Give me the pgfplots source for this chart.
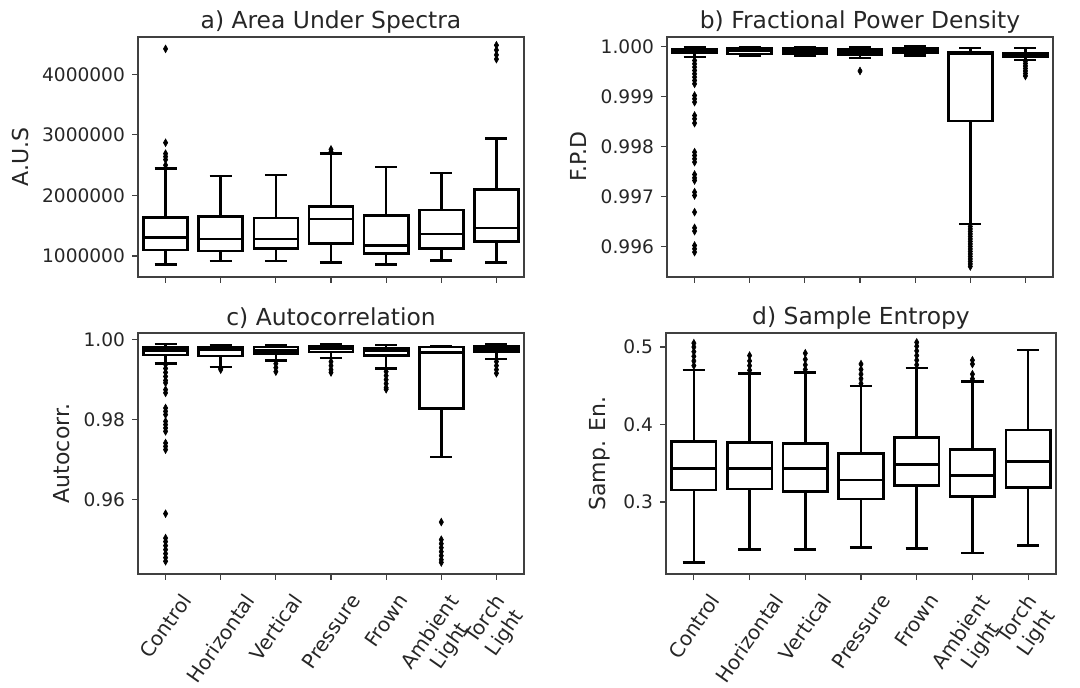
\documentclass[border=0pt]{standalone}
\usepackage{fontspec}
\setmainfont{DejaVu Sans}
\usepackage{graphicx}
\usepackage{pgfplots}
\usepgfplotslibrary{statistics}
\pgfplotsset{compat=1.18}

\definecolor{spine}{gray}{0.25}
\definecolor{txt}{gray}{0.15}

\pgfplotsset{
  panel/.style={
    scale only axis, width=193pt, height=120pt,
    xmin=-0.5, xmax=6.5, xtick={0,...,6},
    tick align=outside, major tick length=3pt,
    xtick pos=bottom, ytick pos=left,
    axis line style={spine, line width=0.6pt},
    tick style={spine, line width=0.6pt},
    tick label style={font=\fontsize{9.3}{11.2}\selectfont, text=txt},
    label style={font=\fontsize{11}{13}\selectfont, text=txt},
    title style={font=\fontsize{11.7}{14}\selectfont, text=txt, yshift=-7.5pt},
    /pgf/number format/assume math mode=true,
    scaled y ticks=false,
    yticklabel style={/pgf/number format/fixed, /pgf/number format/fixed zerofill,
      /pgf/number format/1000 sep={}},
    boxplot/draw direction=y,
    boxplot/box extend=0.8,
    boxplot/whisker extend=0.4,
    clip=false,
  },
  bx/.style={black, line width=1.3pt, solid, mark=diamond*, mark size=1.9pt,
    mark options={xscale=0.75, solid, line width=0.3pt, fill=black},
    boxplot/every box/.style={fill=white}},
  nolab/.style={xticklabels={}},
  lab/.style={xticklabel style={anchor=north, yshift=-2.5pt, font=\fontsize{10}{11.8}\selectfont},
    xticklabels={\rotatebox{55}{Control},\rotatebox{55}{Horizontal},\rotatebox{55}{Vertical},
      \rotatebox{55}{Pressure},\rotatebox{55}{Frown},
      \rotatebox{55}{\begin{tabular}{@{}c@{}}Ambient\\Light\end{tabular}},
      \rotatebox{55}{\begin{tabular}{@{}c@{}}Torch\\Light\end{tabular}}}},
}

\begin{document}
\begin{tikzpicture}
\useasboundingbox (0,0) rectangle (540pt,-344pt);

% a) area under spectra
\begin{axis}[panel, nolab, at={(69pt,-18.5pt)}, anchor=north west,
  title={a) Area Under Spectra}, ylabel={A.U.S},
  ymin=653000, ymax=4616000, ytick={1000000,2000000,3000000,4000000},
  yticklabel style={/pgf/number format/precision=0}]
\addplot[bx, boxplot prepared={draw position=0, lower whisker=857000, lower quartile=1099000, median=1308000, upper quartile=1639000, upper whisker=2448000}]
  table[row sep=\\, y index=0] {v\\ 2500000\\ 2590000\\ 2640000\\ 2690000\\ 2870000\\ 4420000\\};
\addplot[bx, boxplot prepared={draw position=1, lower whisker=917000, lower quartile=1083000, median=1280000, upper quartile=1650000, upper whisker=2321000}] coordinates {};
\addplot[bx, boxplot prepared={draw position=2, lower whisker=917000, lower quartile=1127000, median=1280000, upper quartile=1628000, upper whisker=2338000}] coordinates {};
\addplot[bx, boxplot prepared={draw position=3, lower whisker=895000, lower quartile=1204000, median=1611000, upper quartile=1820000, upper whisker=2695000}]
  table[row sep=\\, y index=0] {v\\ 2720000\\ 2760000\\};
\addplot[bx, boxplot prepared={draw position=4, lower whisker=857000, lower quartile=1044000, median=1176000, upper quartile=1666000, upper whisker=2470000}] coordinates {};
\addplot[bx, boxplot prepared={draw position=5, lower whisker=923000, lower quartile=1127000, median=1363000, upper quartile=1760000, upper whisker=2370000}] coordinates {};
\addplot[bx, boxplot prepared={draw position=6, lower whisker=895000, lower quartile=1242000, median=1462000, upper quartile=2100000, upper whisker=2943000}]
  table[row sep=\\, y index=0] {v\\ 4250000\\ 4320000\\ 4400000\\ 4480000\\};
\end{axis}

% b) fractional power density
\begin{axis}[panel, nolab, at={(333.5pt,-18.5pt)}, anchor=north west,
  title={b) Fractional Power Density}, ylabel={F.P.D},
  ymin=0.99539, ymax=1.00019, ytick={0.996,0.997,0.998,0.999,1.000},
  yticklabel style={/pgf/number format/precision=3}]
\addplot[bx, boxplot prepared={draw position=0, lower whisker=0.99979, lower quartile=0.99987, median=0.99991, upper quartile=0.99995, upper whisker=0.99999}]
  table[row sep=\\, y index=0] {v\\ 0.99972\\ 0.999653\\ 0.999587\\ 0.99952\\ 0.999453\\ 0.999387\\ 0.99932\\ 0.999253\\
  0.99902\\ 0.998953\\ 0.998887\\ 0.99862\\ 0.998553\\ 0.998467\\ 0.997887\\ 0.99782\\ 0.997753\\ 0.997687\\
  0.99744\\ 0.997373\\ 0.99732\\ 0.997087\\ 0.99702\\ 0.996687\\ 0.996373\\ 0.996307\\ 0.99602\\ 0.995953\\ 0.995887\\};
\addplot[bx, boxplot prepared={draw position=1, lower whisker=0.99982, lower quartile=0.99985, median=0.99991, upper quartile=0.99996, upper whisker=0.99999}] coordinates {};
\addplot[bx, boxplot prepared={draw position=2, lower whisker=0.99982, lower quartile=0.99986, median=0.99991, upper quartile=0.99996, upper whisker=0.99999}] coordinates {};
\addplot[bx, boxplot prepared={draw position=3, lower whisker=0.99977, lower quartile=0.99984, median=0.99989, upper quartile=0.99994, upper whisker=0.99999}]
  table[row sep=\\, y index=0] {v\\ 0.99951\\};
\addplot[bx, boxplot prepared={draw position=4, lower whisker=0.99982, lower quartile=0.99987, median=0.99992, upper quartile=0.99997, upper whisker=1.00000}] coordinates {};
\addplot[bx, boxplot prepared={draw position=5, lower whisker=0.99645, lower quartile=0.99851, median=0.99985, upper quartile=0.99988, upper whisker=0.99997}]
  table[row sep=\\, y index=0] {v\\ 0.99640\\ 0.99635\\ 0.99630\\ 0.99625\\ 0.99620\\ 0.99615\\ 0.99610\\ 0.99605\\ 0.99600\\
  0.99595\\ 0.99590\\ 0.99585\\ 0.99580\\ 0.99575\\ 0.99570\\ 0.99565\\ 0.99560\\};
\addplot[bx, boxplot prepared={draw position=6, lower whisker=0.99973, lower quartile=0.99980, median=0.99984, upper quartile=0.99987, upper whisker=0.99997}]
  table[row sep=\\, y index=0] {v\\ 0.99971\\ 0.99966\\ 0.99961\\ 0.99956\\ 0.99951\\ 0.99946\\ 0.99941\\};
\end{axis}

% c) autocorrelation
\begin{axis}[panel, lab, at={(69pt,-166.5pt)}, anchor=north west,
  height=120.5pt,
  title={c) Autocorrelation}, ylabel={Autocorr.},
  ymin=0.94142, ymax=1.00167, ytick={0.96,0.98,1.00},
  yticklabel style={/pgf/number format/precision=2}]
\addplot[bx, boxplot prepared={draw position=0, lower whisker=0.9940, lower quartile=0.99617, median=0.99733, upper quartile=0.99808, upper whisker=0.99892}]
  table[row sep=\\, y index=0] {v\\ 0.9938\\ 0.9928\\ 0.9918\\ 0.9908\\ 0.9898\\ 0.9892\\ 0.9875\\ 0.9867\\
  0.98292\\ 0.98208\\ 0.98125\\ 0.97958\\ 0.97875\\ 0.97792\\ 0.97708\\ 0.97417\\ 0.97333\\ 0.9725\\
  0.9565\\ 0.9504\\ 0.9495\\ 0.9485\\ 0.9475\\ 0.9465\\ 0.9455\\ 0.9446\\};
\addplot[bx, boxplot prepared={draw position=1, lower whisker=0.99317, lower quartile=0.99592, median=0.9975, upper quartile=0.99817, upper whisker=0.99867}]
  table[row sep=\\, y index=0] {v\\ 0.9928\\ 0.9925\\};
\addplot[bx, boxplot prepared={draw position=2, lower whisker=0.99475, lower quartile=0.9965, median=0.9973, upper quartile=0.99817, upper whisker=0.99867}]
  table[row sep=\\, y index=0] {v\\ 0.9940\\ 0.9930\\ 0.9920\\};
\addplot[bx, boxplot prepared={draw position=3, lower whisker=0.99542, lower quartile=0.99692, median=0.99767, upper quartile=0.99833, upper whisker=0.99892}]
  table[row sep=\\, y index=0] {v\\ 0.9945\\ 0.9935\\ 0.9925\\ 0.9918\\};
\addplot[bx, boxplot prepared={draw position=4, lower whisker=0.99283, lower quartile=0.996, median=0.99717, upper quartile=0.99783, upper whisker=0.99867}]
  table[row sep=\\, y index=0] {v\\ 0.9920\\ 0.9910\\ 0.9900\\ 0.9890\\ 0.9880\\ 0.9876\\};
\addplot[bx, boxplot prepared={draw position=5, lower whisker=0.97067, lower quartile=0.98283, median=0.99683, upper quartile=0.99817, upper whisker=0.99833}]
  table[row sep=\\, y index=0] {v\\ 0.9544\\ 0.9500\\ 0.9490\\ 0.9480\\ 0.9470\\ 0.9460\\ 0.9450\\ 0.9443\\};
\addplot[bx, boxplot prepared={draw position=6, lower whisker=0.99517, lower quartile=0.99708, median=0.99775, upper quartile=0.99833, upper whisker=0.99892}]
  table[row sep=\\, y index=0] {v\\ 0.9945\\ 0.9935\\ 0.9925\\ 0.9916\\};
\end{axis}

% d) sample entropy
\begin{axis}[panel, lab, at={(333pt,-166.5pt)}, anchor=north west,
  width=195pt, height=120.5pt,
  title={d) Sample Entropy}, ylabel={Samp. En.},
  ymin=0.2071, ymax=0.5181, ytick={0.3,0.4,0.5},
  yticklabel style={/pgf/number format/precision=1}]
\addplot[bx, boxplot prepared={draw position=0, lower whisker=0.2222, lower quartile=0.3155, median=0.3434, upper quartile=0.3783, upper whisker=0.4703}]
  table[row sep=\\, y index=0] {v\\ 0.476\\ 0.482\\ 0.488\\ 0.494\\ 0.500\\ 0.505\\};
\addplot[bx, boxplot prepared={draw position=1, lower whisker=0.2385, lower quartile=0.3168, median=0.3434, upper quartile=0.3770, upper whisker=0.4656}]
  table[row sep=\\, y index=0] {v\\ 0.470\\ 0.476\\ 0.482\\ 0.489\\};
\addplot[bx, boxplot prepared={draw position=2, lower whisker=0.2385, lower quartile=0.3138, median=0.3434, upper quartile=0.3753, upper whisker=0.4673}]
  table[row sep=\\, y index=0] {v\\ 0.471\\ 0.477\\ 0.484\\ 0.492\\};
\addplot[bx, boxplot prepared={draw position=3, lower whisker=0.2415, lower quartile=0.3039, median=0.3284, upper quartile=0.3624, upper whisker=0.4497}]
  table[row sep=\\, y index=0] {v\\ 0.453\\ 0.459\\ 0.465\\ 0.471\\ 0.478\\};
\addplot[bx, boxplot prepared={draw position=4, lower whisker=0.2398, lower quartile=0.3211, median=0.3482, upper quartile=0.3834, upper whisker=0.4729}]
  table[row sep=\\, y index=0] {v\\ 0.477\\ 0.483\\ 0.489\\ 0.495\\ 0.501\\ 0.506\\};
\addplot[bx, boxplot prepared={draw position=5, lower whisker=0.2342, lower quartile=0.3069, median=0.3344, upper quartile=0.3680, upper whisker=0.4557}]
  table[row sep=\\, y index=0] {v\\ 0.459\\ 0.465\\ 0.478\\ 0.483\\};
\addplot[bx, boxplot prepared={draw position=6, lower whisker=0.2441, lower quartile=0.3185, median=0.3520, upper quartile=0.3929, upper whisker=0.4961}] coordinates {};
\end{axis}
\end{tikzpicture}
\end{document}
